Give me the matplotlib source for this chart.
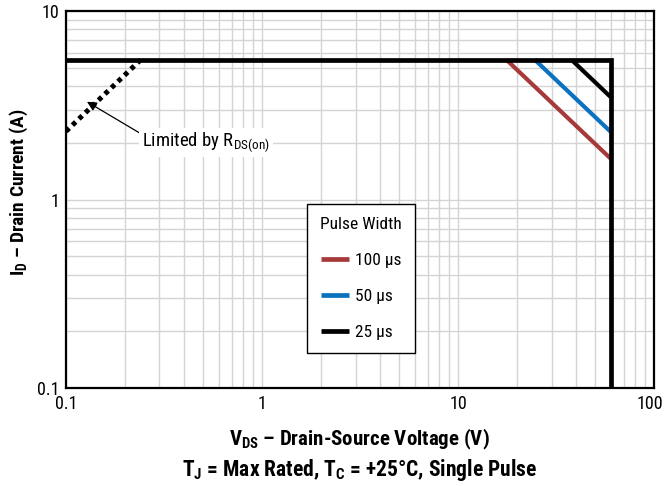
import matplotlib
matplotlib.use("Agg")
import matplotlib.pyplot as plt
from matplotlib import font_manager
from matplotlib.transforms import ScaledTranslation
from matplotlib.ticker import LogLocator, NullFormatter, FixedLocator, FixedFormatter

# Prefer a narrow sans face when one is installed
_names = {f.name for f in font_manager.fontManager.ttflist}
_narrow = [n for n in ["Liberation Sans Narrow", "Roboto Condensed", "Open Sans Condensed",
                       "Noto Sans Condensed", "DejaVu Sans Condensed", "Arial Narrow"]
           if n in _names]
_cond = [f for f in font_manager.fontManager.ttflist
         if f.stretch in ("condensed", "semi-condensed", "extra-condensed", 500 - 125)]
if _narrow:
    FONT = [_narrow[0], "DejaVu Sans"]
elif _cond:
    FONT = [_cond[0].name, "DejaVu Sans"]
    plt.rcParams["font.stretch"] = "condensed"
else:
    FONT = ["DejaVu Sans"]
plt.rcParams["font.family"] = FONT
plt.rcParams["mathtext.fontset"] = "custom"
plt.rcParams["mathtext.rm"] = FONT[0]
plt.rcParams["mathtext.bf"] = FONT[0] + ":bold"

# Safe operating area data
I_MAX = 5.5          # package current limit (A)
V_MAX = 60.0         # drain-source breakdown limit (V)
rds_v = [0.1, 0.24]  # on-resistance limited region (V)
rds_i = [2.3, 5.5]   # (A)

pulse_labels = ["100 µs", "50 µs", "25 µs"]
pulse_colors = ["#a63a3a", "#0b72c0", "#000000"]
knee_v = [17.7, 24.7, 38.0]   # V where the pulse curve leaves I_MAX
end_i = [1.65, 2.29, 3.5]     # current at V_MAX (A)

x_ticks = [0.1, 1, 10, 100]
x_tick_labels = ["0.1", "1", "10", "100"]
y_ticks = [0.1, 1, 10]
y_tick_labels = ["0.1", "1", "10"]

fig = plt.figure(figsize=(6.65, 4.86), dpi=100)
ax = fig.add_axes([0.0992, 0.2016, 0.8843, 0.7758])
ax.set_xscale("log")
ax.set_yscale("log")
ax.set_xlim(0.1, 100)
ax.set_ylim(0.1, 10)

ax.xaxis.set_major_locator(FixedLocator(x_ticks))
ax.xaxis.set_major_formatter(FixedFormatter(x_tick_labels))
ax.yaxis.set_major_locator(FixedLocator(y_ticks))
ax.yaxis.set_major_formatter(FixedFormatter(y_tick_labels))
ax.xaxis.set_minor_locator(LogLocator(base=10, subs=range(2, 10)))
ax.yaxis.set_minor_locator(LogLocator(base=10, subs=range(2, 10)))
ax.xaxis.set_minor_formatter(NullFormatter())
ax.yaxis.set_minor_formatter(NullFormatter())
ax.tick_params(which="both", length=0, labelsize=13, pad=5)
ax.grid(which="both", color="#d4d4d4", linewidth=1.0)
ax.set_axisbelow(True)
for s in ax.spines.values():
    s.set_linewidth(1.6)
    s.set_color("black")

# keep the rightmost tick label inside the figure
fig.canvas.draw()
for lbl in ax.get_xticklabels():
    if lbl.get_text() == x_tick_labels[-1]:
        lbl.set_transform(lbl.get_transform() +
                          ScaledTranslation(-4 / 100, 0, fig.dpi_scale_trans))

# Pulse-width curves
handles = []
for v, i_end, c, lab in zip(knee_v, end_i, pulse_colors, pulse_labels):
    h, = ax.plot([v, V_MAX], [I_MAX, i_end], color=c, linewidth=3.0,
                 solid_capstyle="butt", zorder=3, label=lab)
    handles.append(h)

# Current and voltage limits
ax.plot([0.1, V_MAX, V_MAX], [I_MAX, I_MAX, 0.1], color="black",
        linewidth=3.4, solid_joinstyle="miter", zorder=4)

# R_DS(on) limit
ax.plot(rds_v, rds_i, color="black", linewidth=3.6, linestyle=(0, (0.9, 0.9)),
        dash_capstyle="butt", zorder=4)

ax.annotate("Limited by $\\mathregular{R_{DS(on)}}$", xy=(0.128, 3.3),
            xytext=(0.245, 2.0), fontsize=13.5, ha="left", va="center",
            bbox=dict(boxstyle="square,pad=0.15", fc="white", ec="none"),
            arrowprops=dict(arrowstyle="-|>", color="black", lw=0.9,
                            mutation_scale=14, shrinkA=0, shrinkB=0,
                            relpos=(0.0, 0.85)),
            zorder=5)

leg = ax.legend(handles=handles, title="Pulse Width", loc="upper left",
                bbox_to_anchor=(0.41, 0.488), fontsize=12.5, title_fontsize=12.5,
                frameon=True, fancybox=False, edgecolor="black", framealpha=1,
                handlelength=1.6, handletextpad=0.35, labelspacing=1.2,
                borderpad=0.75, borderaxespad=0)
leg.get_frame().set_linewidth(1.0)
leg.set_zorder(6)
for ln in leg.get_lines():
    ln.set_linewidth(3.4)

ax.set_ylabel("$\\mathbf{I_D}$ – Drain Current (A)", fontsize=14,
              fontweight="bold")
ax.yaxis.set_label_coords(-0.062, 0.52)
fig.text(0.541, 0.095, "$\\mathbf{V_{DS}}$ – Drain-Source Voltage (V)",
         fontsize=15, fontweight="bold", ha="center", va="center")
fig.text(0.541, 0.033, "$\\mathbf{T_J}$ = Max Rated, $\\mathbf{T_C}$ = +25°C, Single Pulse",
         fontsize=15.5, fontweight="bold", ha="center", va="center")

fig.savefig("out.png", dpi=100)
